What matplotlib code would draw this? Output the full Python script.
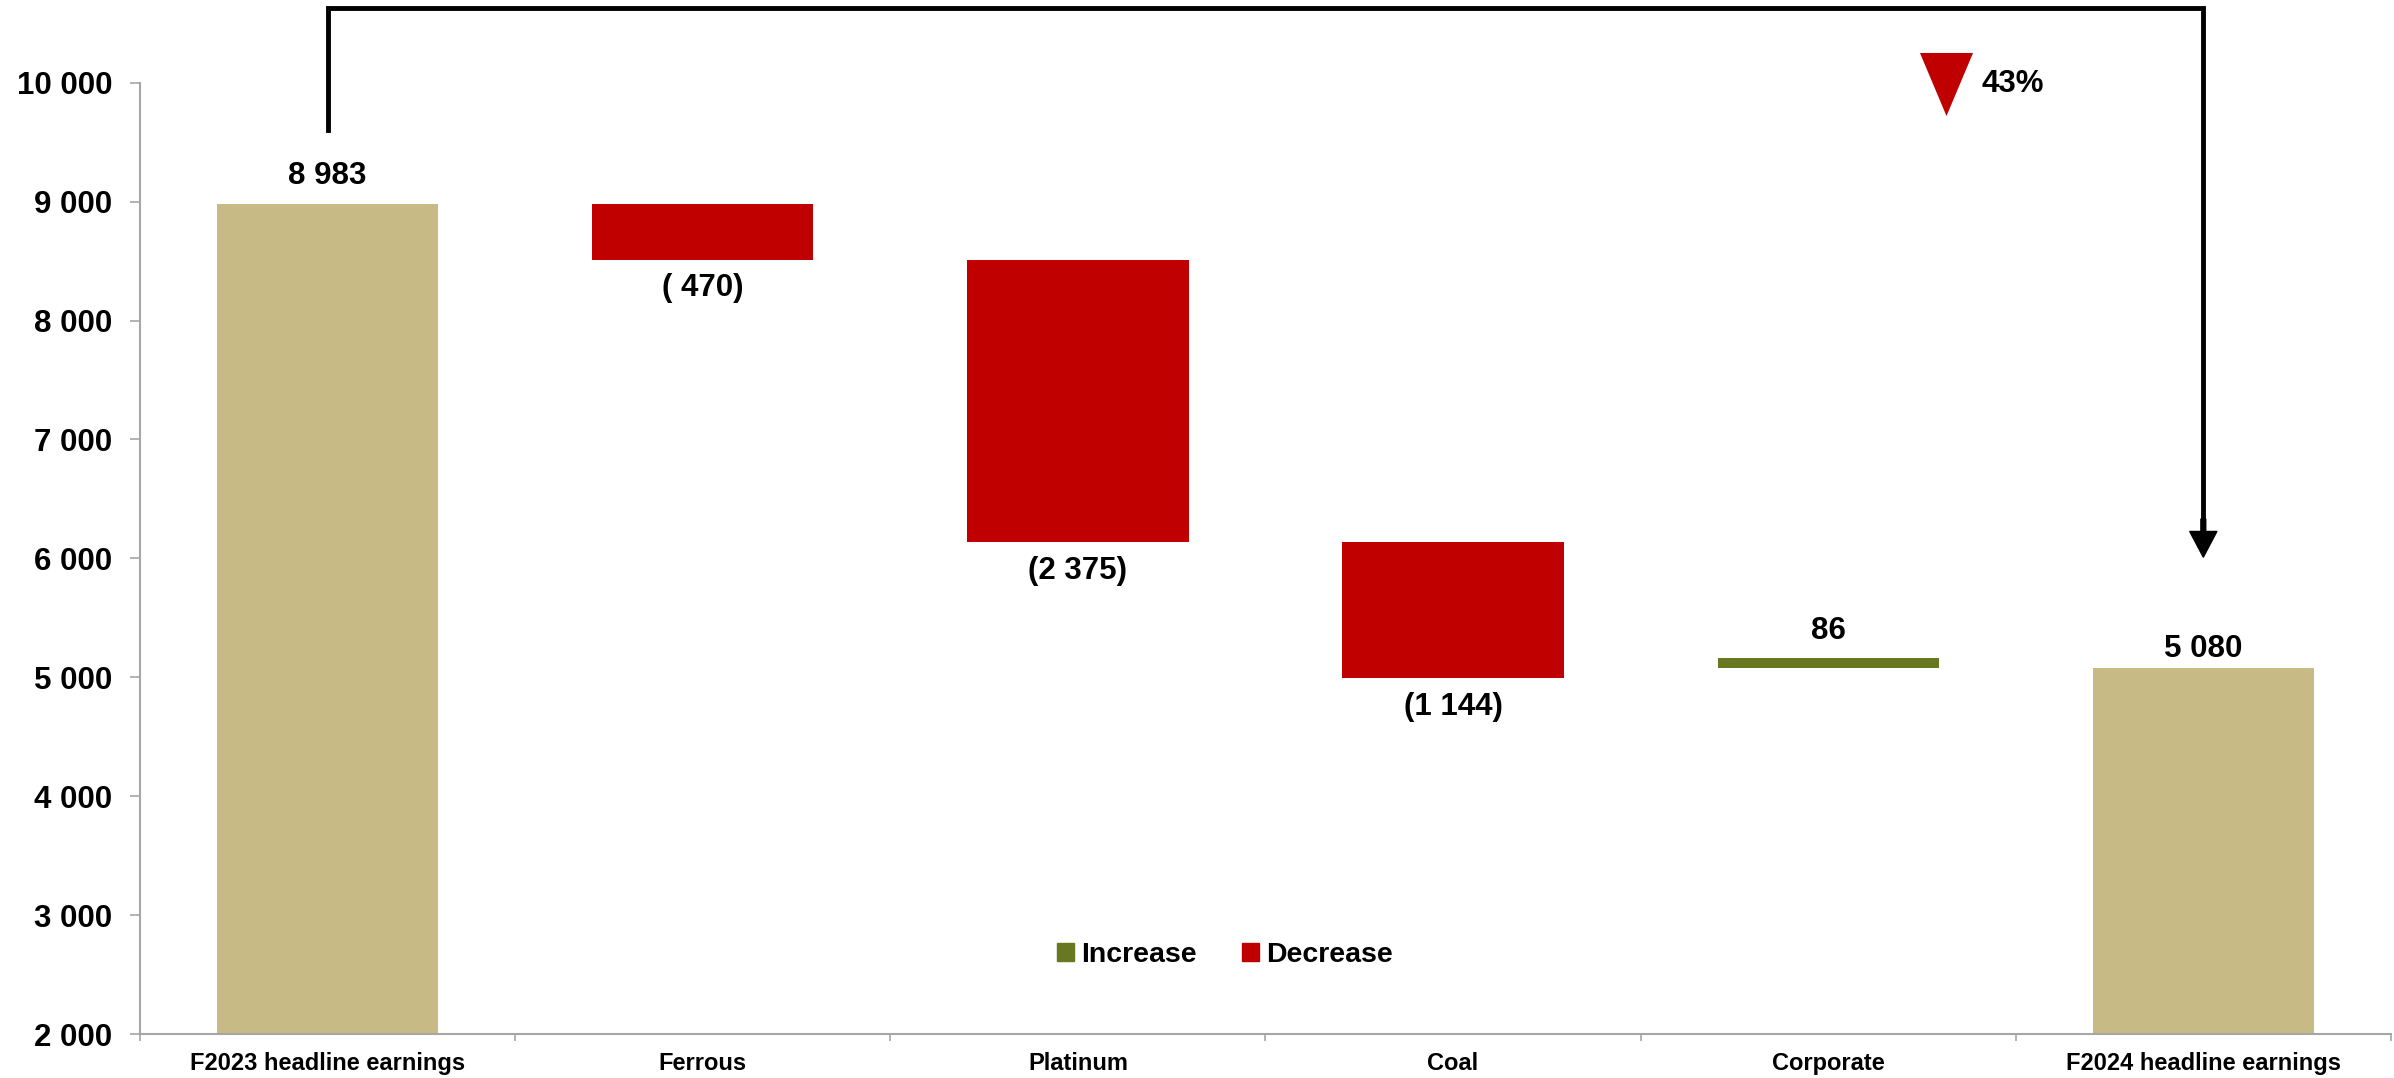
import matplotlib
matplotlib.use("Agg")
import matplotlib.pyplot as plt
from matplotlib.patches import Patch
from matplotlib.ticker import FuncFormatter, FixedLocator

plt.rcParams["font.family"] = ["Liberation Sans", "DejaVu Sans"]
plt.rcParams["font.weight"] = "bold"

# headline earnings bridge (R million)
categories = ["F2023 headline earnings", "Ferrous", "Platinum", "Coal",
              "Corporate", "F2024 headline earnings"]
start_value = 8983
changes = [-470, -2375, -1144, 86]
end_value = 5080
change_pct = "43%"

TAN = "#C8BA84"
RED = "#C00000"
GREEN = "#677820"
GREY = "#A6A6A6"


def fmt_num(v):
    s = f"{abs(int(v)):,}".replace(",", " ")
    if v < 0:
        if abs(v) < 1000:
            s = " " + s
        return f"({s})"
    return s


fig = plt.figure(figsize=(23.94, 10.78), dpi=100)
ax = fig.add_axes([0.0585, 0.0408, 0.9402, 0.8825])

x = list(range(len(categories)))
width = 0.59

# total bars
ax.bar(x[0], start_value, width, color=TAN, bottom=0, zorder=2)
ax.bar(x[-1], end_value, width, color=TAN, bottom=0, zorder=2)
ax.annotate(fmt_num(start_value), (x[0], start_value), xytext=(0, 9),
            textcoords="offset points", ha="center", va="bottom", fontsize=22.5)
ax.annotate(fmt_num(end_value), (x[-1], end_value), xytext=(0, 3),
            textcoords="offset points", ha="center", va="bottom", fontsize=22.5)

# floating change bars
running = start_value
for i, ch in enumerate(changes, start=1):
    if ch < 0:
        running = running + ch
        ax.bar(i, -ch, width, bottom=running, color=RED, zorder=2)
        ax.annotate(fmt_num(ch), (i, running), xytext=(0, -10),
                    textcoords="offset points", ha="center", va="top", fontsize=22.5)
    else:
        running = running + ch
        ax.bar(i, ch, width, bottom=running, color=GREEN, zorder=2)
        ax.annotate(fmt_num(ch), (i, running + ch), xytext=(0, 8),
                    textcoords="offset points", ha="center", va="bottom", fontsize=22.5)

ax.set_xlim(-0.5, len(categories) - 0.5)
ax.set_ylim(2000, 10000)
ax.set_yticks(range(2000, 10001, 1000))
ax.yaxis.set_major_formatter(FuncFormatter(lambda v, p: fmt_num(v)))
ax.tick_params(axis="y", labelsize=22.5, length=7, width=1.2, color=GREY, pad=13)

# category labels between boundary ticks
ax.xaxis.set_major_locator(FixedLocator([i - 0.5 for i in range(len(categories) + 1)]))
ax.xaxis.set_minor_locator(FixedLocator(x))
ax.set_xticklabels([])
ax.set_xticklabels(categories, minor=True)
ax.tick_params(axis="x", which="major", length=5, width=1.2, color=GREY)
ax.tick_params(axis="x", which="minor", length=0, labelsize=17, pad=13)

for side in ["top", "right"]:
    ax.spines[side].set_visible(False)
for side in ["left", "bottom"]:
    ax.spines[side].set_color(GREY)
    ax.spines[side].set_linewidth(1.5)

# bracket arrow from start total to end total
ax.plot([x[0], x[0], x[-1], x[-1]], [9600, 10630, 10630, 6300],
        color="black", lw=3.5, clip_on=False, solid_joinstyle="miter", zorder=3)
ax.annotate("", xy=(x[-1], 6010), xytext=(x[-1], 6330),
            arrowprops=dict(width=3.5, headwidth=19.5, headlength=18.5,
                            shrink=0, color="black"), annotation_clip=False)

tri = [(-53 / 63, 1), (53 / 63, 1), (0, -1)]
ax.plot([4.313], [9986], marker=tri, markersize=45.4, color=RED,
        markeredgewidth=0, clip_on=False, zorder=3)
ax.text(4.41, 9990, change_pct, ha="left", va="center", fontsize=22.5)

leg = ax.legend(handles=[Patch(color=GREEN, label="Increase"),
                         Patch(color=RED, label="Decrease")],
                loc="center", bbox_to_anchor=(0.482, 0.083), ncol=2, frameon=False,
                fontsize=20.5, handlelength=0.58, handleheight=0.58,
                handletextpad=0.25, columnspacing=1.6)

fig.savefig("out.png", dpi=100)
